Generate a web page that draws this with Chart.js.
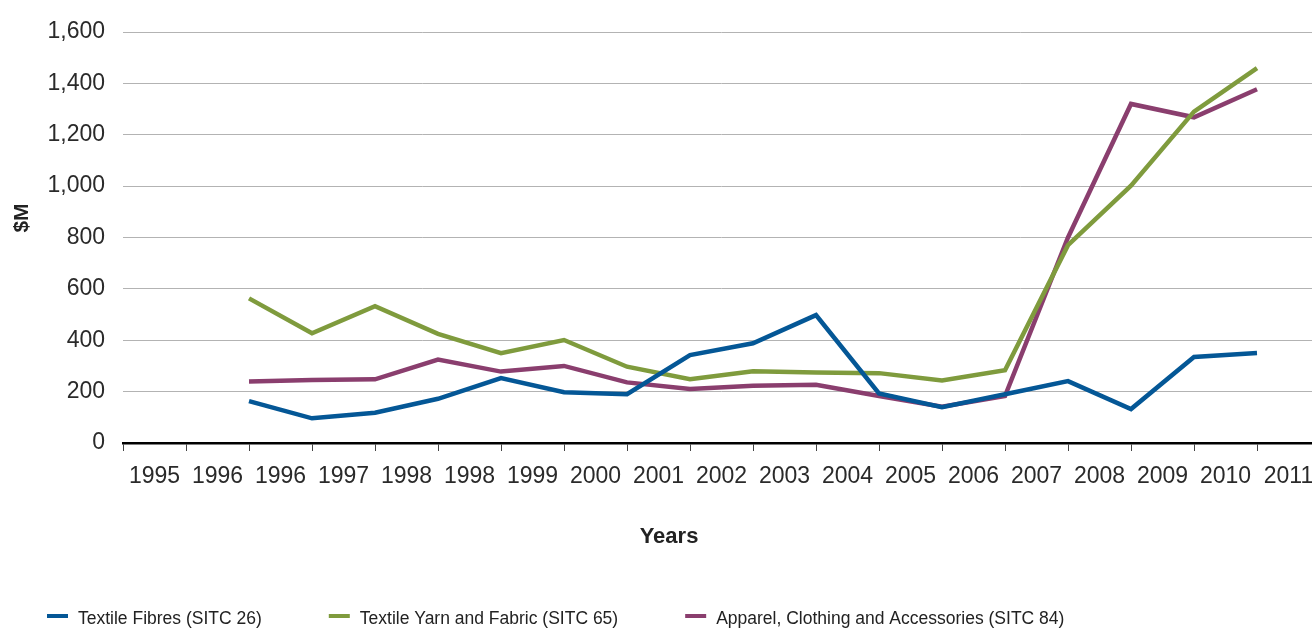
<!DOCTYPE html>
<html>
<head>
<meta charset="utf-8">
<script src="https://cdn.jsdelivr.net/npm/chart.js@4.4.1/dist/chart.umd.min.js"></script>
<style>
  html, body { margin: 0; padding: 0; background: #fff; width: 1312px; height: 628px; overflow: hidden; }
  canvas { position: absolute; left: 0; top: 0; }
</style>
</head>
<body>
<canvas id="chart" width="1340" height="628"></canvas>
<script>
// Year bands shown along the bottom axis
const yearLabels = ['1995', '1996', '1996', '1997', '1998', '1998', '1999', '2000', '2001', '2002',
                    '2003', '2004', '2005', '2006', '2007', '2008', '2009', '2010', '2011'];
// Each series starts on the band boundary after the second band
const firstSlot = 2;

// Import values, $M
const textileFibres = [163, 96, 118, 172, 253, 198, 190, 342, 388, 498, 193, 139, 190, 241, 132, 335, 350];
const yarnAndFabric = [563, 427, 533, 425, 350, 401, 297, 248, 279, 274, 272, 243, 283, 770, 1002, 1290, 1459];
const apparel       = [239, 245, 248, 325, 278, 300, 236, 210, 223, 227, 183, 141, 183, 800, 1320, 1268, 1377];

const seriesNames = ['Textile Fibres (SITC 26)', 'Textile Yarn and Fabric (SITC 65)', 'Apparel, Clothing and Accessories (SITC 84)'];
const seriesColors = ['#045796', '#7f9b3d', '#8a3e6e'];

const yAxisMin = 0, yAxisMax = 1600, yAxisStep = 200;

const FONT = '"Liberation Sans", Arial, Helvetica, sans-serif';

function toPoints(values) {
  return values.map((v, i) => ({ x: firstSlot + i, y: v }));
}

// Axis captions
const captions = {
  id: 'captions',
  afterDraw(chart) {
    const { ctx, chartArea } = chart;
    ctx.save();
    ctx.fillStyle = '#222';
    ctx.textAlign = 'center';
    ctx.textBaseline = 'middle';
    ctx.font = 'bold 21px ' + FONT;
    ctx.translate(22, chartArea.top + 186);
    ctx.rotate(-Math.PI / 2);
    ctx.fillText('$M', 0, 0);
    ctx.restore();

    ctx.save();
    ctx.fillStyle = '#222';
    ctx.textAlign = 'center';
    ctx.textBaseline = 'middle';
    ctx.font = 'bold 22px ' + FONT;
    ctx.fillText('Years', 669, chartArea.bottom + 94);
    ctx.restore();
  }
};

// Series key along the bottom edge
const seriesKey = {
  id: 'seriesKey',
  afterDraw(chart) {
    const ctx = chart.ctx;
    ctx.save();
    ctx.font = '17.5px ' + FONT;
    ctx.textBaseline = 'alphabetic';
    ctx.textAlign = 'left';
    let x = 47;
    const y = 624;
    chart.data.datasets.forEach(ds => {
      ctx.fillStyle = ds.borderColor;
      ctx.fillRect(x, y - 10, 21, 4);
      ctx.fillStyle = '#222';
      ctx.fillText(ds.label, x + 31, y);
      x += 31 + ctx.measureText(ds.label).width + 67;
    });
    ctx.restore();
  }
};

const seriesValues = [textileFibres, yarnAndFabric, apparel];

new Chart(document.getElementById('chart'), {
  type: 'line',
  data: {
    datasets: seriesValues.map((vals, i) => ({
      label: seriesNames[i],
      data: toPoints(vals),
      borderColor: seriesColors[i],
      backgroundColor: seriesColors[i],
      borderWidth: 4.5,
      pointRadius: 0,
      tension: 0,
      fill: false,
      borderJoinStyle: 'miter',
      xAxisID: 'x',
      yAxisID: 'y'
    }))
  },
  options: {
    responsive: false,
    animation: false,
    devicePixelRatio: 1,
    layout: { padding: { top: 32, right: 20, bottom: 135, left: 0 } },
    plugins: {
      legend: { display: false },
      tooltip: { enabled: false }
    },
    scales: {
      x: {
        type: 'linear',
        display: false,
        min: 0,
        max: yearLabels.length
      },
      years: {
        type: 'category',
        position: 'bottom',
        labels: yearLabels,
        offset: true,
        grid: {
          offset: true,
          drawOnChartArea: false,
          drawTicks: true,
          tickLength: 8,
          color: '#444',
          lineWidth: 1
        },
        border: { display: true, color: '#000', width: 2.5 },
        ticks: {
          autoSkip: false,
          maxRotation: 0,
          minRotation: 0,
          padding: 12,
          color: '#2a2a2a',
          font: { family: FONT, size: 23 }
        },
        afterFit(scale) { scale.height = 50; }
      },
      y: {
        min: yAxisMin,
        max: yAxisMax,
        grid: { color: '#b3b3b3', lineWidth: 1, drawTicks: false },
        border: { display: false },
        ticks: {
          stepSize: yAxisStep,
          padding: 18,
          color: '#2a2a2a',
          font: { family: FONT, size: 23 },
          callback: v => v.toLocaleString('en-US')
        },
        afterFit(scale) { scale.width = 123; }
      }
    }
  },
  plugins: [captions, seriesKey]
});
</script>
</body>
</html>
